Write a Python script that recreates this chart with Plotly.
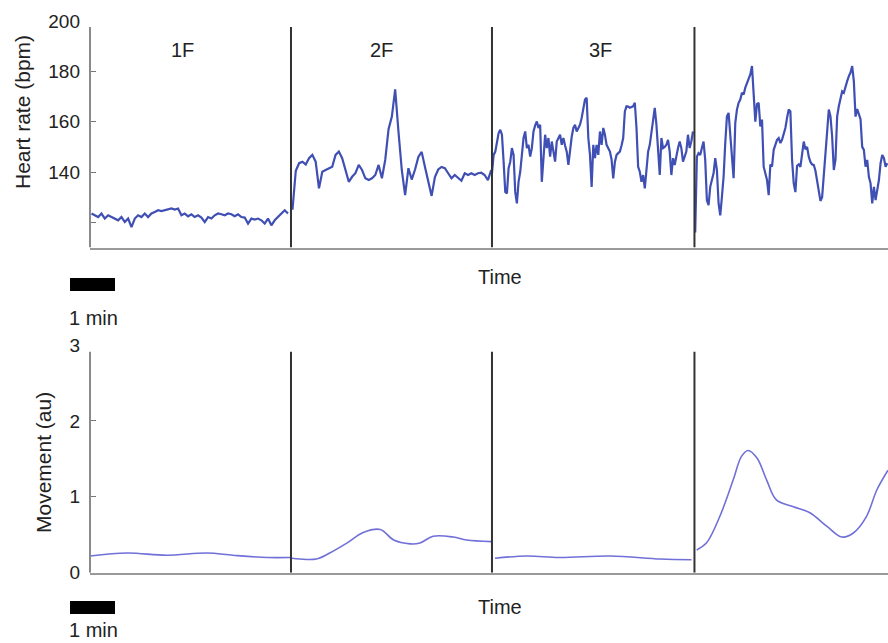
import numpy as np
import plotly.graph_objects as go
from plotly.subplots import make_subplots

# ---------------- data ----------------
# phase boundaries (s) and labels
phase_bounds = [270, 540, 812]
phase_labels = ["1F", "2F", "3F"]

# heart rate (bpm), per phase
hr_1F = [123.5, 122.8, 122.1, 123.5, 121.5, 122.8, 122.1, 121.5, 120.8, 122.1,
         120.1, 121.5, 118.1, 121.5, 122.8, 122.1, 123.5, 122.1, 123.5, 124.1,
         124.8, 124.5, 124.8, 125.1, 125.5, 125.1, 125.5, 122.8, 123.5, 122.4,
         123.2, 122.1, 122.8, 121.9, 120.1, 122.1, 121.5, 122.8, 123.5, 123.2,
         122.8, 123.5, 123.2, 122.4, 123.2, 122.1, 121.9, 119.5, 121.5, 121.1,
         121.5, 120.8, 119.5, 121.5, 118.8, 120.8, 122.1, 123.5, 124.8, 123.5]
hr_2F = [125.0, 140.5, 143.5, 144.1, 143.0, 145.5, 146.8, 144.1, 133.5, 140.1,
         140.8, 141.5, 142.1, 146.8, 148.1, 145.5, 140.8, 136.1, 138.1, 139.5,
         142.8, 140.8, 137.5, 136.8, 137.5, 138.8, 142.8, 137.5, 144.8, 157.0,
         162.0, 172.8, 156.0, 140.8, 130.8, 141.5, 137.0, 141.0, 146.0, 148.0,
         142.0, 136.0, 130.5, 138.0, 141.0, 142.0, 141.5, 139.5, 137.5, 138.8,
         137.5, 136.5, 139.5, 138.8, 139.5, 138.8, 139.5, 139.7, 138.8, 136.8,
         140.8]
hr_3F = [139.5, 146.8, 148.1, 152.8, 155.5, 156.8, 154.8, 144.1, 132.1, 131.5,
         141.5, 144.1, 149.5, 146.8, 132.1, 127.5, 136.1, 140.1, 148.1, 153.5,
         156.1, 149.5, 150.8, 146.1, 149.5, 156.1, 158.5, 160.1, 157.5, 158.8,
         136.1, 148.1, 154.8, 149.5, 153.5, 146.1, 152.1, 148.1, 144.1, 152.1,
         153.5, 154.8, 150.8, 153.5, 150.5, 148.1, 142.8, 149.5, 154.0, 157.5,
         158.8, 156.1, 157.5, 158.8, 161.5, 165.5, 168.8, 169.5, 153.5, 146.8,
         134.1, 150.8, 145.5, 150.8, 146.8, 156.1, 150.8, 157.5, 154.8, 150.8,
         149.5, 148.1, 145.0, 137.5, 144.0, 146.8, 147.5, 148.1, 150.5, 153.5,
         164.1, 166.1, 166.0, 165.5, 165.8, 166.1, 167.5, 157.5, 142.1, 140.1,
         136.1, 138.8, 133.5, 140.1, 148.1, 150.8, 156.0, 161.5, 165.5, 158.8,
         149.5, 138.8, 153.5, 149.5, 150.0, 150.8, 152.8, 148.1, 138.8, 145.5,
         142.8, 146.8, 149.5, 152.1, 149.5, 144.1, 146.0, 148.1, 154.8, 149.5,
         152.1, 156.1]
hr_4F = [116.0, 146.1, 147.5, 146.8, 149.5, 152.1, 144.8, 128.8, 126.8, 134.1,
         136.8, 139.5, 145.5, 140.8, 127.5, 122.8, 130.1, 138.1, 151.5, 162.1,
         163.5, 155.5, 147.5, 137.5, 159.5, 164.8, 167.5, 168.8, 171.5, 170.8,
         173.5, 175.5, 176.8, 178.8, 182.1, 171.5, 160.0, 167.0, 167.5, 158.1,
         160.8, 142.1, 139.5, 136.8, 130.8, 143.0, 142.1, 148.8, 150.8, 152.8,
         153.5, 151.5, 152.8, 155.5, 157.5, 161.5, 164.8, 164.1, 144.8, 135.5,
         132.0, 142.5, 143.0, 142.0, 148.0, 152.1, 149.0, 150.0, 146.1, 144.0,
         143.0, 142.8, 140.5, 137.0, 133.0, 128.5, 130.0, 140.0, 147.0, 156.0,
         164.8, 162.1, 154.1, 140.8, 144.8, 162.1, 166.1, 168.8, 172.1, 171.5,
         174.1, 176.1, 178.1, 179.5, 182.1, 176.0, 162.0, 165.0, 163.0, 161.0,
         150.0, 148.8, 142.1, 144.8, 138.1, 135.5, 127.5, 134.1, 128.8, 132.8,
         136.8, 143.5, 146.8, 145.5, 142.1, 143.5]
# sampling window (start, end) in seconds of each heart-rate segment
hr_windows = [(2, 266), (272, 539), (540, 810), (813, 1071)]

# movement (au), smoothed trace per phase
mv_1F_t = [0, 50, 103, 157, 192, 238, 269]
mv_1F = [0.22, 0.26, 0.23, 0.26, 0.23, 0.20, 0.20]
mv_2F_t = [271, 282, 304, 322, 345, 367, 390, 408, 430, 443, 461, 488, 506, 539]
mv_2F = [0.19, 0.18, 0.18, 0.26, 0.39, 0.53, 0.57, 0.43, 0.38, 0.39, 0.48, 0.47, 0.43, 0.41]
mv_3F_t = [544, 587, 631, 699, 766, 808]
mv_3F = [0.19, 0.22, 0.20, 0.22, 0.18, 0.17]
mv_4F_t = [815, 828, 846, 864, 875, 884, 896, 909, 922, 945, 967, 990, 1010, 1025, 1043, 1057, 1072]
mv_4F = [0.30, 0.39, 0.74, 1.22, 1.53, 1.61, 1.51, 1.22, 0.96, 0.87, 0.79, 0.61, 0.47, 0.52, 0.74, 1.09, 1.35]

hr_ticks = [120, 140, 160, 180, 200]
hr_ticktext = ["", "140", "160", "180", "200"]
mv_ticks = [0, 1, 2, 3]

# ---------------- figure ----------------
W, H = 888, 643
FONT = "Liberation Sans, Arial, Helvetica, sans-serif"
HR_COLOR = "#3f4fb3"
MV_COLOR = "#7070d8"

fig = make_subplots(rows=2, cols=1)

for vals, (t0, t1) in zip([hr_1F, hr_2F, hr_3F, hr_4F], hr_windows):
    fig.add_trace(go.Scatter(x=np.linspace(t0, t1, len(vals)), y=vals, mode="lines",
                             line=dict(color=HR_COLOR, width=2.2), showlegend=False,
                             hoverinfo="skip"), row=1, col=1)

for tt, vv in [(mv_1F_t, mv_1F), (mv_2F_t, mv_2F), (mv_3F_t, mv_3F), (mv_4F_t, mv_4F)]:
    fig.add_trace(go.Scatter(x=tt, y=vv, mode="lines",
                             line=dict(color=MV_COLOR, width=1.6, shape="spline"),
                             showlegend=False, hoverinfo="skip"), row=2, col=1)

def py2frac(py):
    return 1 - py / H

def px2frac(px):
    return (px - 90) / (W - 90)

x_common = dict(range=[0, 1072], showline=True, linecolor="#9a9a9a", linewidth=2,
                showticklabels=False, ticks="", showgrid=False, zeroline=False,
                domain=[0, 1])
fig.update_xaxes(**x_common)

y_common = dict(showline=False, ticks="inside", ticklen=6, tickwidth=1.2,
                tickcolor="#777", showgrid=False, zeroline=False, automargin=False,
                ticklabelstandoff=9,
                tickfont=dict(family=FONT, size=19, color="#222"))
fig.update_yaxes(**y_common)
fig.update_layout(
    yaxis=dict(range=[110, 200], tickvals=hr_ticks, ticktext=hr_ticktext,
               domain=[py2frac(247.5), py2frac(21)]),
    yaxis2=dict(range=[0, 3], tickvals=mv_ticks,
                domain=[py2frac(572.7), py2frac(345)]),
)

shapes = []
# y axis lines
shapes.append(dict(type="line", xref="paper", yref="y", x0=0, x1=0, y0=110, y1=197.6,
                   line=dict(color="#8a8a8a", width=2)))
shapes.append(dict(type="line", xref="paper", yref="y2", x0=0, x1=0, y0=0, y1=2.91,
                   line=dict(color="#8a8a8a", width=2)))
# phase separators
for b in phase_bounds:
    shapes.append(dict(type="line", xref="x", yref="y", x0=b, x1=b, y0=110, y1=197.6,
                       line=dict(color="#333", width=2)))
    shapes.append(dict(type="line", xref="x2", yref="y2", x0=b, x1=b, y0=0, y1=2.91,
                       line=dict(color="#333", width=2)))
# 1-min scale bars
for yt, yb in [(278, 291), (601, 614)]:
    shapes.append(dict(type="rect", xref="paper", yref="paper",
                       x0=px2frac(70), x1=px2frac(115), y0=py2frac(yb), y1=py2frac(yt),
                       fillcolor="#000", line=dict(width=0)))

ann = []
def add_text(text, px, py, size=20, angle=0):
    ann.append(dict(text=text, xref="paper", yref="paper", x=px2frac(px), y=py2frac(py),
                    xanchor="center", yanchor="middle", showarrow=False, textangle=angle,
                    font=dict(family=FONT, size=size, color="#222")))

add_text("Heart rate (bpm)", 22, 112, size=21, angle=-90)
add_text("Movement (au)", 43, 463, size=21, angle=-90)
add_text("Time", 500, 277)
add_text("Time", 500, 607)
add_text("1 min", 93, 318)
add_text("1 min", 93, 630)
for lab, px in zip(phase_labels, [182, 381, 600]):
    add_text(lab, px, 50)

fig.update_layout(width=W, height=H, autosize=False, margin=dict(l=90, r=0, t=0, b=0),
                  plot_bgcolor="white", paper_bgcolor="white",
                  shapes=shapes, annotations=ann, showlegend=False)

fig.write_html("out.html", config={"displayModeBar": False},
               post_script="document.body.style.margin='0';document.body.style.overflow='hidden';")
